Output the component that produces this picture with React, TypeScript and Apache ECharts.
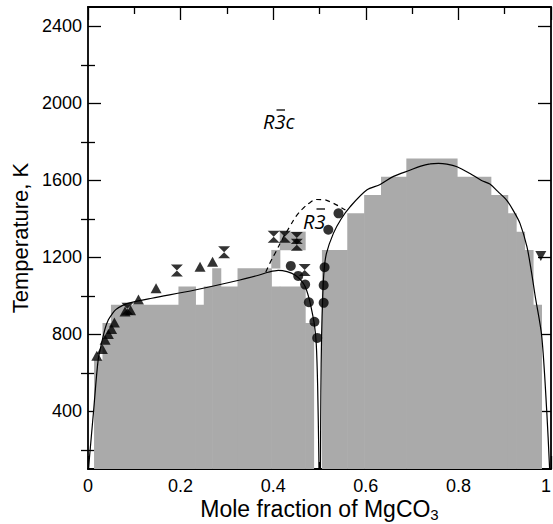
import React, { useEffect, useRef } from 'react';
import * as echarts from 'echarts';

// ---- data ----
// gray simulation cells: [xStart, xEnd, Tlow, Thigh]
const grayBlocks: [number, number, number, number][] = [
  [0.0137, 0.0319, 100, 668],
  [0.0319, 0.0502, 100, 858],
  [0.0502, 0.196, 100, 953],
  [0.196, 0.2325, 100, 1048],
  [0.2325, 0.2507, 100, 953],
  [0.2507, 0.2689, 100, 1048],
  [0.2689, 0.2872, 100, 1143],
  [0.2872, 0.3236, 100, 1048],
  [0.3236, 0.3965, 100, 1143],
  [0.3965, 0.4148, 100, 1048],
  [0.3965, 0.4148, 1143, 1238],
  [0.4148, 0.4695, 100, 1048],
  [0.4148, 0.4695, 1238, 1333],
  [0.4695, 0.4877, 100, 858],
  [0.5059, 0.5606, 100, 1238],
  [0.5606, 0.5971, 100, 1428],
  [0.5971, 0.6335, 100, 1523],
  [0.6335, 0.6882, 100, 1618],
  [0.6882, 0.7976, 100, 1713],
  [0.7976, 0.8705, 100, 1618],
  [0.8705, 0.907, 100, 1523],
  [0.907, 0.9252, 100, 1428],
  [0.9252, 0.9434, 100, 1333],
  [0.9434, 0.9617, 100, 1238],
  [0.9617, 0.9799, 100, 953],
];

const leftSolvus: [number, number][] = [
  [0.001, 100], [0.012, 400], [0.022, 668], [0.030, 760], [0.037, 830],
  [0.044, 875], [0.052, 905], [0.060, 928], [0.075, 950], [0.090, 963],
  [0.138, 987], [0.231, 1030], [0.328, 1082], [0.370, 1108], [0.389, 1122],
  [0.411, 1132], [0.430, 1125], [0.447, 1108], [0.460, 1080], [0.469, 1048],
  [0.477, 990], [0.483, 927], [0.489, 850], [0.493, 750], [0.496, 530], [0.499, 100],
];

const rightSolvus: [number, number][] = [
  [0.502, 100], [0.503, 500], [0.5045, 789], [0.507, 1000], [0.510, 1134],
  [0.515, 1220], [0.530, 1324], [0.547, 1400], [0.566, 1462], [0.602, 1549],
  [0.631, 1578], [0.660, 1620], [0.695, 1652], [0.717, 1672], [0.739, 1685],
  [0.757, 1688], [0.775, 1684], [0.797, 1670], [0.825, 1635], [0.849, 1600],
  [0.868, 1580], [0.885, 1542], [0.904, 1497], [0.918, 1445], [0.933, 1376],
  [0.948, 1255], [0.958, 1120], [0.966, 996], [0.980, 789], [0.991, 392], [0.997, 100],
];

const r3Dome: [number, number][] = [
  [0.384, 1124], [0.395, 1180], [0.405, 1225], [0.420, 1295], [0.436, 1360],
  [0.450, 1415], [0.465, 1455], [0.480, 1485], [0.494, 1500], [0.509, 1499],
  [0.523, 1488], [0.540, 1468], [0.556, 1445],
];

const triangleUp: [number, number][] = [
  [0.019, 688], [0.031, 723], [0.037, 771], [0.044, 801], [0.051, 827],
  [0.057, 861], [0.080, 918], [0.092, 925], [0.109, 981], [0.147, 1039],
  [0.242, 1151], [0.269, 1177],
];

const hourglass: [number, number][] = [
  [0.085, 932], [0.192, 1131], [0.294, 1226], [0.401, 1307], [0.425, 1307],
  [0.451, 1300], [0.451, 1265], [0.468, 1134],
];

const triangleDown: [number, number][] = [[0.978, 1207]];

const circles: [number, number][] = [
  [0.438, 1155], [0.454, 1103], [0.469, 1058], [0.477, 966], [0.489, 865],
  [0.495, 781], [0.511, 1148], [0.509, 1055], [0.509, 963], [0.519, 1343],
  [0.541, 1428],
];

const yMajorTicks = [400, 800, 1200, 1600, 2000, 2400];
const yMinorTicks = [200, 600, 1000, 1400, 1800, 2200];

const FONT = 'Liberation Sans, Arial, sans-serif';
const HOURGLASS = 'path://M0,0 L12,0 L6,6 L12,12 L0,12 L6,6 Z';

export default function App() {
  const ref = useRef<HTMLDivElement>(null);
  useEffect(() => {
    if (!ref.current) return;
    const chart = echarts.init(ref.current, undefined, { renderer: 'svg' });
    const axisLine = { show: true, onZero: false, lineStyle: { color: '#000', width: 1.8 } };
    const tickStyle = { color: '#000', width: 1.3 };
    const xCommon = {
      type: 'value', min: 0, max: 1, interval: 0.2,
      axisLine,
      axisTick: { show: true, inside: true, length: 13, lineStyle: tickStyle },
      minorTick: { show: true, splitNumber: 2, length: 7, lineStyle: tickStyle },
      splitLine: { show: false }, minorSplitLine: { show: false },
    };
    const yCommon = { type: 'value', min: 100, max: 2500, splitLine: { show: false } };
    chart.setOption({
      animation: false,
      backgroundColor: '#fff',
      grid: { left: 88, right: 2, top: 7, bottom: 55, containLabel: false, outerBoundsMode: 'none' },
      xAxis: [
        {
          ...xCommon, position: 'bottom',
          axisLabel: { fontSize: 18, color: '#000', fontFamily: FONT, margin: 8, alignMaxLabel: 'right' },
          name: 'Mole fraction of MgCO{sub|3}', nameLocation: 'middle', nameGap: 26,
          nameMoveOverlap: false,
          nameTextStyle: {
            fontSize: 23, color: '#000', fontFamily: FONT,
            rich: { sub: { fontSize: 15, color: '#000', fontFamily: FONT, padding: [12, 0, 0, 0] } },
          },
        },
        { ...xCommon, position: 'top', axisLabel: { show: false } },
      ],
      yAxis: [
        {
          ...yCommon, position: 'left', axisLine,
          axisTick: { show: true, inside: true, length: 13, lineStyle: tickStyle, customValues: yMajorTicks },
          axisLabel: {
            fontSize: 18, color: '#000', fontFamily: FONT, margin: 6, customValues: yMajorTicks,
            formatter: (v: number) => String(v),
          },
          name: 'Temperature, K', nameLocation: 'middle', nameGap: 56,
          nameTextStyle: { fontSize: 22, color: '#000', fontFamily: FONT },
        },
        {
          ...yCommon, position: 'left', axisLine: { show: false },
          axisTick: { show: true, inside: true, length: 7, lineStyle: tickStyle, customValues: yMinorTicks },
          axisLabel: { show: false },
        },
        {
          ...yCommon, position: 'right', axisLine,
          axisTick: { show: true, inside: true, length: 13, lineStyle: tickStyle, customValues: yMajorTicks },
          axisLabel: { show: false },
        },
        {
          ...yCommon, position: 'right', axisLine: { show: false },
          axisTick: { show: true, inside: true, length: 7, lineStyle: tickStyle, customValues: yMinorTicks },
          axisLabel: { show: false },
        },
      ],
      series: [
        {
          type: 'custom', name: 'simulation', clip: true,
          data: grayBlocks,
          encode: { x: [0, 1], y: [2, 3] },
          renderItem: (_p: any, api: any) => {
            const a = api.coord([api.value(0), api.value(3)]);
            const b = api.coord([api.value(1), api.value(2)]);
            return {
              type: 'rect',
              shape: { x: a[0] - 0.3, y: a[1], width: b[0] - a[0] + 0.6, height: b[1] - a[1] + 0.3 },
              style: { fill: '#aaaaaa' },
            };
          },
        },
        {
          type: 'line', name: 'left', data: leftSolvus, symbol: 'none', smooth: 0.3,
          lineStyle: { color: '#000', width: 1.2 },
        },
        {
          type: 'line', name: 'right', data: rightSolvus, symbol: 'none', smooth: 0.3,
          lineStyle: { color: '#000', width: 1.2 },
        },
        {
          type: 'line', name: 'R3 dome', data: r3Dome, symbol: 'none', smooth: 0.4,
          lineStyle: { color: '#000', width: 1.2, type: [5, 4] },
        },
        {
          type: 'scatter', data: triangleUp, symbol: 'triangle', symbolSize: [11, 10],
          itemStyle: { color: '#000' },
        },
        {
          type: 'scatter', data: hourglass, symbol: HOURGLASS, symbolSize: [12, 12],
          itemStyle: { color: '#000' },
        },
        {
          type: 'scatter', data: triangleDown, symbol: 'triangle', symbolRotate: 180, symbolSize: [11, 10],
          itemStyle: { color: '#000' },
        },
        {
          type: 'scatter', data: circles, symbol: 'circle', symbolSize: 10,
          itemStyle: { color: '#000' },
        },
      ],
      graphic: [
        {
          type: 'text', x: 263, y: 121.5, z: 100,
          style: { text: 'R3c', fontSize: 20, fontStyle: 'italic', fontFamily: 'Open Sans', fill: '#000', verticalAlign: 'middle', align: 'left' },
        },
        { type: 'line', z: 100, shape: { x1: 276.5, y1: 110, x2: 285, y2: 110 }, style: { stroke: '#000', lineWidth: 1.3 } },
        {
          type: 'text', x: 303, y: 221, z: 100,
          style: { text: 'R3', fontSize: 20, fontStyle: 'italic', fontFamily: 'Open Sans', fill: '#000', verticalAlign: 'middle', align: 'left' },
        },
        { type: 'line', z: 100, shape: { x1: 316.5, y1: 209, x2: 325, y2: 209 }, style: { stroke: '#000', lineWidth: 1.3 } },
      ],
    });
    return () => chart.dispose();
  }, []);
  return (
    <div
      ref={ref}
      style={{ position: 'fixed', left: 0, top: 0, width: 553, height: 524, background: '#fff' }}
    />
  );
}
